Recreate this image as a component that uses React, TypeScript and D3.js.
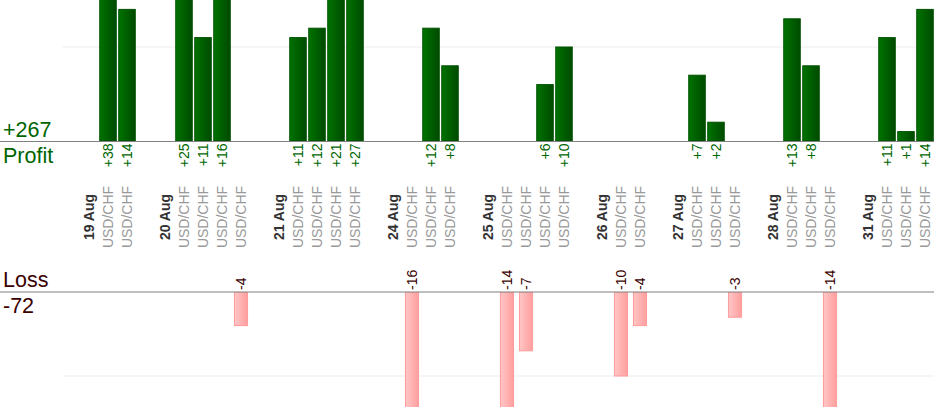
import React from "react";
import * as d3 from "d3";

const days = ["19 Aug", "20 Aug", "21 Aug", "24 Aug", "25 Aug", "26 Aug", "27 Aug", "28 Aug", "31 Aug"];
const tradeDays = [0, 0, 1, 1, 1, 1, 2, 2, 2, 2, 3, 3, 3, 4, 4, 4, 4, 5, 5, 6, 6, 6, 7, 7, 7, 8, 8, 8];
const tradeSymbols = tradeDays.map(() => "USD/CHF");
const tradeResults = [38, 14, 25, 11, 16, -4, 11, 12, 21, 27, -16, 12, 8, -14, -7, 6, 10, -10, -4, 7, 2, -3, 13, 8, -14, 11, 1, 14];
const gridValue = 10;

type Slot = { id: string; kind: "date" | "trade" | "gap"; label: string; value: number };

const W = 934;
const H = 420;
const FONT = "'Liberation Sans', Arial, Helvetica, sans-serif";

export default function App() {
  const slots: Slot[] = [];
  days.forEach((d, di) => {
    slots.push({ id: "d" + di, kind: "date", label: d, value: 0 });
    tradeResults.forEach((v, ti) => {
      if (tradeDays[ti] === di) slots.push({ id: "t" + ti, kind: "trade", label: tradeSymbols[ti], value: v });
    });
    if (di < days.length - 1) slots.push({ id: "g" + di, kind: "gap", label: "", value: 0 });
  });

  const x = d3.scaleBand<string>().domain(slots.map((s) => s.id)).range([79.5, 934.5]).padding(0);
  const bw = x.bandwidth();

  const yTop = d3.scaleLinear().domain([0, 15]).range([141, 0]);
  const yBot = d3.scaleLinear().domain([0, -10]).range([292, 376]);

  const profit = d3.sum(tradeResults.filter((v) => v > 0));
  const loss = d3.sum(tradeResults.filter((v) => v < 0));

  const green = "#006600";
  const maroon = "#3a0000";

  return (
    <svg width={W} height={H} style={{ position: "absolute", left: 0, top: 0, display: "block" }} fontFamily={FONT}>
      <defs>
        <linearGradient id="gGreen" x1="0" x2="1" y1="0" y2="0">
          <stop offset="0" stopColor="#007300" />
          <stop offset="1" stopColor="#004a00" />
        </linearGradient>
        <linearGradient id="gPink" x1="0" x2="1" y1="0" y2="0">
          <stop offset="0" stopColor="#ffc6c6" />
          <stop offset="1" stopColor="#ff9e9e" />
        </linearGradient>
        <clipPath id="clipTop">
          <rect x={0} y={0} width={W} height={yTop(0)} />
        </clipPath>
        <clipPath id="clipBot">
          <rect x={0} y={yBot(0)} width={W} height={407 - yBot(0)} />
        </clipPath>
      </defs>
      <rect width={W} height={H} fill="#fff" />

      {/* gridlines */}
      <line x1={63} x2={W} y1={yTop(gridValue)} y2={yTop(gridValue)} stroke="#ebebeb" />
      <line x1={63} x2={W} y1={yBot(-gridValue)} y2={yBot(-gridValue)} stroke="#ebebeb" />

      {/* profit bars */}
      <g clipPath="url(#clipTop)">
        {slots
          .filter((s) => s.kind === "trade" && s.value > 0)
          .map((s) => {
            const w = bw * 0.87;
            const cx = (x(s.id) as number) + bw / 2;
            return (
              <rect
                key={s.id}
                x={cx - w / 2}
                y={yTop(s.value)}
                width={w}
                height={yTop(0) - yTop(s.value)}
                fill="url(#gGreen)"
                stroke="#005200"
                strokeWidth={1}
              />
            );
          })}
      </g>

      {/* loss bars */}
      <g clipPath="url(#clipBot)">
        {slots
          .filter((s) => s.kind === "trade" && s.value < 0)
          .map((s) => {
            const w = bw * 0.69;
            const cx = (x(s.id) as number) + bw / 2;
            return (
              <rect
                key={s.id}
                x={cx - w / 2}
                y={yBot(0)}
                width={w}
                height={yBot(s.value) - yBot(0)}
                fill="url(#gPink)"
                stroke="#ff9a9a"
                strokeWidth={1}
              />
            );
          })}
      </g>

      {/* axis lines */}
      <line x1={0} x2={W} y1={yTop(0) + 0.5} y2={yTop(0) + 0.5} stroke="#808080" strokeWidth={1.2} />
      <line x1={0} x2={W} y1={yBot(0)} y2={yBot(0)} stroke="#808080" strokeWidth={1.2} />

      {/* profit value labels */}
      {slots
        .filter((s) => s.kind === "trade" && s.value > 0)
        .map((s) => {
          const cx = (x(s.id) as number) + bw / 2;
          const y = 143.5;
          return (
            <text
              key={"pv" + s.id}
              transform={`translate(${cx},${y}) rotate(-90)`}
              textAnchor="end"
              dy="0.35em"
              fontSize={14}
              fill={green}
            >
              {"+" + s.value}
            </text>
          );
        })}

      {/* loss value labels */}
      {slots
        .filter((s) => s.kind === "trade" && s.value < 0)
        .map((s) => {
          const cx = (x(s.id) as number) + bw / 2;
          const y = 290;
          return (
            <text
              key={"lv" + s.id}
              transform={`translate(${cx},${y}) rotate(-90)`}
              textAnchor="start"
              dy="0.35em"
              fontSize={14}
              fill={maroon}
            >
              {String(s.value)}
            </text>
          );
        })}

      {/* category labels */}
      {slots
        .filter((s) => s.kind !== "gap")
        .map((s) => {
          const cx = (x(s.id) as number) + bw / 2;
          return (
            <text
              key={"c" + s.id}
              transform={`translate(${cx},217) rotate(-90)`}
              textAnchor="middle"
              dy="0.35em"
              fontSize={14}
              fontWeight={s.kind === "date" ? "bold" : "normal"}
              fill={s.kind === "date" ? "#333333" : "#999999"}
            >
              {s.label}
            </text>
          );
        })}

      {/* totals */}
      <text x={3} y={137} fontSize={21.5} fill={green}>{"+" + profit}</text>
      <text x={3} y={163} fontSize={21.5} fill={green}>Profit</text>
      <text x={3} y={287} fontSize={21.5} fill={maroon}>Loss</text>
      <text x={3} y={313} fontSize={21.5} fill={maroon}>{String(loss)}</text>
    </svg>
  );
}
